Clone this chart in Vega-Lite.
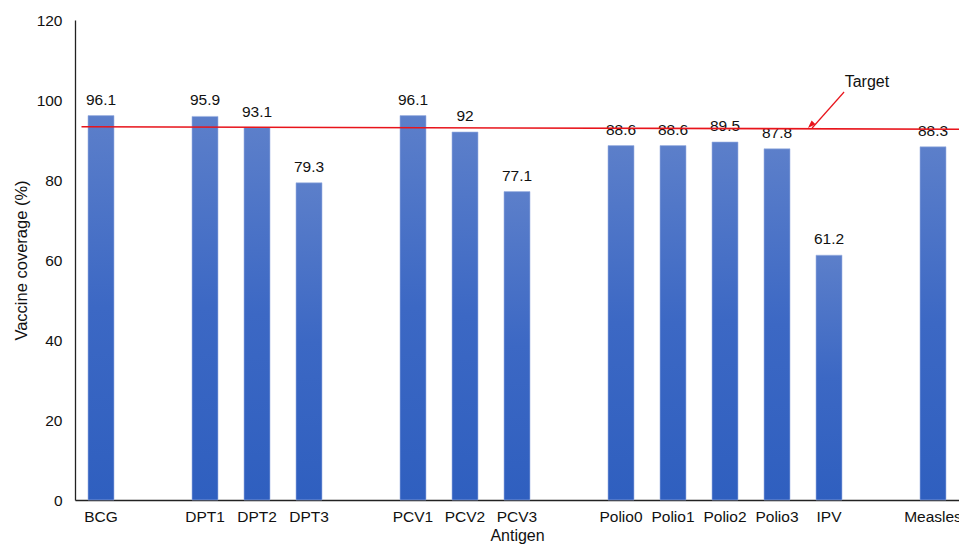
{
  "$schema": "https://vega.github.io/schema/vega-lite/v6.json",
  "width": 884,
  "height": 480,
  "autosize": "none",
  "padding": {"left": 75, "top": 20, "right": 0, "bottom": 44},
  "background": "white",
  "config": {
    "font": "Liberation Sans",
    "view": {"stroke": null},
    "axis": {
      "domainColor": "#222222",
      "domainWidth": 1.3,
      "grid": false,
      "ticks": false,
      "labelColor": "#111111",
      "titleColor": "#111111",
      "labelFont": "Liberation Sans",
      "titleFont": "Liberation Sans",
      "titleFontWeight": "normal"
    }
  },
  "datasets": {
    "coverage": [
      {"antigen": "BCG", "coverage": 96.1},
      {"antigen": "DPT1", "coverage": 95.9},
      {"antigen": "DPT2", "coverage": 93.1},
      {"antigen": "DPT3", "coverage": 79.3},
      {"antigen": "PCV1", "coverage": 96.1},
      {"antigen": "PCV2", "coverage": 92},
      {"antigen": "PCV3", "coverage": 77.1},
      {"antigen": "Polio0", "coverage": 88.6},
      {"antigen": "Polio1", "coverage": 88.6},
      {"antigen": "Polio2", "coverage": 89.5},
      {"antigen": "Polio3", "coverage": 87.8},
      {"antigen": "IPV", "coverage": 61.2},
      {"antigen": "Measles", "coverage": 88.3}
    ],
    "target": [
      {"from": "BCG", "to": "Measles", "start": 93.3, "end": 92.7}
    ],
    "arrow": [
      {"tail": "_d", "head": "IPV", "y_tail": 102, "y_head": 93, "label": "Target", "label_y": 104.5}
    ]
  },
  "encoding": {
    "x": {
      "field": "antigen",
      "type": "nominal",
      "scale": {
        "domain": ["BCG", "_a", "DPT1", "DPT2", "DPT3", "_b", "PCV1", "PCV2", "PCV3", "_c", "Polio0", "Polio1", "Polio2", "Polio3", "IPV", "_d", "Measles"],
        "paddingInner": 0.5,
        "paddingOuter": 0.25
      },
      "axis": {
        "title": "Antigen",
        "labelAngle": 0,
        "labelFontSize": 15.5,
        "labelPadding": 9,
        "titleFontSize": 16,
        "titlePadding": 3,
        "labelExpr": "indexof(datum.label, '_') == 0 ? '' : datum.label"
      }
    }
  },
  "layer": [
    {
      "data": {"name": "coverage"},
      "mark": {
        "type": "bar",
        "color": {
          "gradient": "linear",
          "x1": 0, "y1": 0, "x2": 0, "y2": 1,
          "stops": [
            {"offset": 0, "color": "#5c7fca"},
            {"offset": 0.5, "color": "#3c68c4"},
            {"offset": 1, "color": "#2f5fbf"}
          ]
        },
        "stroke": "#9db3e3",
        "strokeWidth": 0.6
      },
      "encoding": {
        "y": {
          "field": "coverage",
          "type": "quantitative",
          "scale": {"domain": [0, 120]},
          "axis": {
            "title": "Vaccine coverage (%)",
            "values": [0, 20, 40, 60, 80, 100, 120],
            "labelFontSize": 15.5,
            "labelPadding": 13,
            "titleFontSize": 16.5,
            "titlePadding": 7
          }
        }
      }
    },
    {
      "data": {"name": "coverage"},
      "mark": {"type": "text", "baseline": "bottom", "dy": -8, "fontSize": 15.5, "color": "#111111"},
      "encoding": {
        "y": {"field": "coverage", "type": "quantitative"},
        "text": {"field": "coverage", "type": "quantitative"}
      }
    },
    {
      "data": {"name": "target"},
      "mark": {"type": "rule", "color": "#e8141b", "strokeWidth": 1.6},
      "encoding": {
        "x": {"field": "from", "type": "nominal", "bandPosition": -0.25},
        "x2": {"field": "to", "bandPosition": 1.5},
        "y": {"field": "start", "type": "quantitative"},
        "y2": {"field": "end"}
      }
    },
    {
      "data": {"name": "arrow"},
      "mark": {"type": "rule", "color": "#e8141b", "strokeWidth": 1.2},
      "encoding": {
        "x": {"field": "tail", "type": "nominal", "bandPosition": -0.92},
        "x2": {"field": "head", "bandPosition": -0.15},
        "y": {"field": "y_tail", "type": "quantitative"},
        "y2": {"field": "y_head"}
      }
    },
    {
      "data": {"name": "arrow"},
      "mark": {
        "type": "point",
        "shape": "M0,0L-0.45,1.3L0.45,1.3Z",
        "filled": true,
        "color": "#e8141b",
        "opacity": 1,
        "size": 150,
        "angle": 225
      },
      "encoding": {
        "x": {"field": "head", "type": "nominal", "bandPosition": -0.31},
        "y": {"field": "y_head", "type": "quantitative"}
      }
    },
    {
      "data": {"name": "arrow"},
      "mark": {"type": "text", "fontSize": 16, "baseline": "middle", "align": "center", "color": "#111111"},
      "encoding": {
        "x": {"field": "tail", "type": "nominal", "bandPosition": -0.04},
        "y": {"field": "label_y", "type": "quantitative"},
        "text": {"field": "label"}
      }
    }
  ]
}
